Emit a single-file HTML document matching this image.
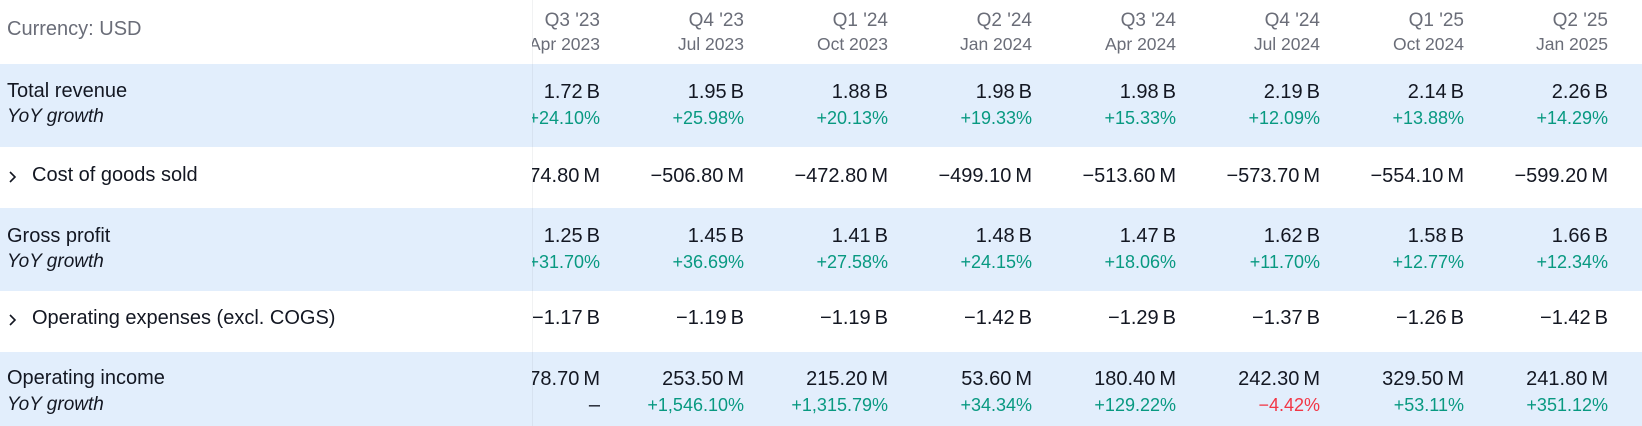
<!DOCTYPE html>
<html><head><meta charset="utf-8">
<style>
html,body{margin:0;padding:0;background:#fff;}
body{width:1642px;height:426px;position:relative;overflow:hidden;font-family:"Liberation Sans","DejaVu Sans",sans-serif;color:#131722;}
.band{position:absolute;left:0;width:1642px;}
.blue{background:#e2eefc;}
.t{position:absolute;white-space:nowrap;line-height:1;}
.lab{font-size:20px;left:7px;}
.lab2{font-size:20px;left:32px;}
.yoy{font-size:19px;left:7px;font-style:italic;}
.cur{font-size:20px;left:7px;top:19px;color:#6a6d78;}
#data{position:absolute;left:532px;top:0;width:1110px;height:426px;overflow:hidden;}
.v{position:absolute;white-space:nowrap;line-height:1;text-align:right;}
.q{font-size:19px;color:#6a6d78;top:11px;}
.d{font-size:17.5px;color:#6a6d78;top:36px;}
.n{font-size:20px;}
.p{font-size:18px;color:#089981;}
.r{color:#f23645;}
.u{margin-left:4px;}
.sep{position:absolute;left:532px;top:0;width:1px;height:426px;background:rgba(120,123,134,0.10);}
</style></head><body>
<div class="band blue" style="top:64px;height:83px"></div>
<div class="band blue" style="top:208px;height:83px"></div>
<div class="band blue" style="top:352px;height:74px"></div>

<div class="t cur">Currency: USD</div>
<div class="t lab" style="top:81px">Total revenue</div>
<div class="t yoy" style="top:107px">YoY growth</div>
<svg style="position:absolute;left:0;top:0" width="30" height="426"><polyline points="10,172 15,177 10,182" fill="none" stroke="#131722" stroke-width="1.6"/><polyline points="10,315 15,320 10,325" fill="none" stroke="#131722" stroke-width="1.6"/></svg>
<div class="t lab2" style="top:165px">Cost of goods sold</div>
<div class="t lab" style="top:226px">Gross profit</div>
<div class="t yoy" style="top:252px">YoY growth</div>
<div class="t lab2" style="top:308px">Operating expenses (excl. COGS)</div>
<div class="t lab" style="top:368px">Operating income</div>
<div class="t yoy" style="top:395px">YoY growth</div>

<div id="data">
<!-- col right offsets: 1042,898,754,610,466,322,178,34 -->
<div class="v q" style="right:1042px">Q3 '23</div><div class="v d" style="right:1042px">Apr 2023</div>
<div class="v q" style="right:898px">Q4 '23</div><div class="v d" style="right:898px">Jul 2023</div>
<div class="v q" style="right:754px">Q1 '24</div><div class="v d" style="right:754px">Oct 2023</div>
<div class="v q" style="right:610px">Q2 '24</div><div class="v d" style="right:610px">Jan 2024</div>
<div class="v q" style="right:466px">Q3 '24</div><div class="v d" style="right:466px">Apr 2024</div>
<div class="v q" style="right:322px">Q4 '24</div><div class="v d" style="right:322px">Jul 2024</div>
<div class="v q" style="right:178px">Q1 '25</div><div class="v d" style="right:178px">Oct 2024</div>
<div class="v q" style="right:34px">Q2 '25</div><div class="v d" style="right:34px">Jan 2025</div>

<div class="v n" style="top:82px;right:1042px">1.72<span class="u">B</span></div>
<div class="v n" style="top:82px;right:898px">1.95<span class="u">B</span></div>
<div class="v n" style="top:82px;right:754px">1.88<span class="u">B</span></div>
<div class="v n" style="top:82px;right:610px">1.98<span class="u">B</span></div>
<div class="v n" style="top:82px;right:466px">1.98<span class="u">B</span></div>
<div class="v n" style="top:82px;right:322px">2.19<span class="u">B</span></div>
<div class="v n" style="top:82px;right:178px">2.14<span class="u">B</span></div>
<div class="v n" style="top:82px;right:34px">2.26<span class="u">B</span></div>

<div class="v p" style="top:109px;right:1042px">+24.10%</div>
<div class="v p" style="top:109px;right:898px">+25.98%</div>
<div class="v p" style="top:109px;right:754px">+20.13%</div>
<div class="v p" style="top:109px;right:610px">+19.33%</div>
<div class="v p" style="top:109px;right:466px">+15.33%</div>
<div class="v p" style="top:109px;right:322px">+12.09%</div>
<div class="v p" style="top:109px;right:178px">+13.88%</div>
<div class="v p" style="top:109px;right:34px">+14.29%</div>

<div class="v n" style="top:166px;right:1042px">−474.80<span class="u">M</span></div>
<div class="v n" style="top:166px;right:898px">−506.80<span class="u">M</span></div>
<div class="v n" style="top:166px;right:754px">−472.80<span class="u">M</span></div>
<div class="v n" style="top:166px;right:610px">−499.10<span class="u">M</span></div>
<div class="v n" style="top:166px;right:466px">−513.60<span class="u">M</span></div>
<div class="v n" style="top:166px;right:322px">−573.70<span class="u">M</span></div>
<div class="v n" style="top:166px;right:178px">−554.10<span class="u">M</span></div>
<div class="v n" style="top:166px;right:34px">−599.20<span class="u">M</span></div>

<div class="v n" style="top:226px;right:1042px">1.25<span class="u">B</span></div>
<div class="v n" style="top:226px;right:898px">1.45<span class="u">B</span></div>
<div class="v n" style="top:226px;right:754px">1.41<span class="u">B</span></div>
<div class="v n" style="top:226px;right:610px">1.48<span class="u">B</span></div>
<div class="v n" style="top:226px;right:466px">1.47<span class="u">B</span></div>
<div class="v n" style="top:226px;right:322px">1.62<span class="u">B</span></div>
<div class="v n" style="top:226px;right:178px">1.58<span class="u">B</span></div>
<div class="v n" style="top:226px;right:34px">1.66<span class="u">B</span></div>

<div class="v p" style="top:253px;right:1042px">+31.70%</div>
<div class="v p" style="top:253px;right:898px">+36.69%</div>
<div class="v p" style="top:253px;right:754px">+27.58%</div>
<div class="v p" style="top:253px;right:610px">+24.15%</div>
<div class="v p" style="top:253px;right:466px">+18.06%</div>
<div class="v p" style="top:253px;right:322px">+11.70%</div>
<div class="v p" style="top:253px;right:178px">+12.77%</div>
<div class="v p" style="top:253px;right:34px">+12.34%</div>

<div class="v n" style="top:308px;right:1042px">−1.17<span class="u">B</span></div>
<div class="v n" style="top:308px;right:898px">−1.19<span class="u">B</span></div>
<div class="v n" style="top:308px;right:754px">−1.19<span class="u">B</span></div>
<div class="v n" style="top:308px;right:610px">−1.42<span class="u">B</span></div>
<div class="v n" style="top:308px;right:466px">−1.29<span class="u">B</span></div>
<div class="v n" style="top:308px;right:322px">−1.37<span class="u">B</span></div>
<div class="v n" style="top:308px;right:178px">−1.26<span class="u">B</span></div>
<div class="v n" style="top:308px;right:34px">−1.42<span class="u">B</span></div>

<div class="v n" style="top:369px;right:1042px">178.70<span class="u">M</span></div>
<div class="v n" style="top:369px;right:898px">253.50<span class="u">M</span></div>
<div class="v n" style="top:369px;right:754px">215.20<span class="u">M</span></div>
<div class="v n" style="top:369px;right:610px">53.60<span class="u">M</span></div>
<div class="v n" style="top:369px;right:466px">180.40<span class="u">M</span></div>
<div class="v n" style="top:369px;right:322px">242.30<span class="u">M</span></div>
<div class="v n" style="top:369px;right:178px">329.50<span class="u">M</span></div>
<div class="v n" style="top:369px;right:34px">241.80<span class="u">M</span></div>

<div class="v n" style="top:395px;right:1042px;color:#131722">–</div>
<div class="v p" style="top:396px;right:898px">+1,546.10%</div>
<div class="v p" style="top:396px;right:754px">+1,315.79%</div>
<div class="v p" style="top:396px;right:610px">+34.34%</div>
<div class="v p" style="top:396px;right:466px">+129.22%</div>
<div class="v p r" style="top:396px;right:322px">−4.42%</div>
<div class="v p" style="top:396px;right:178px">+53.11%</div>
<div class="v p" style="top:396px;right:34px">+351.12%</div>
</div>
<div class="sep"></div>
</body></html>
